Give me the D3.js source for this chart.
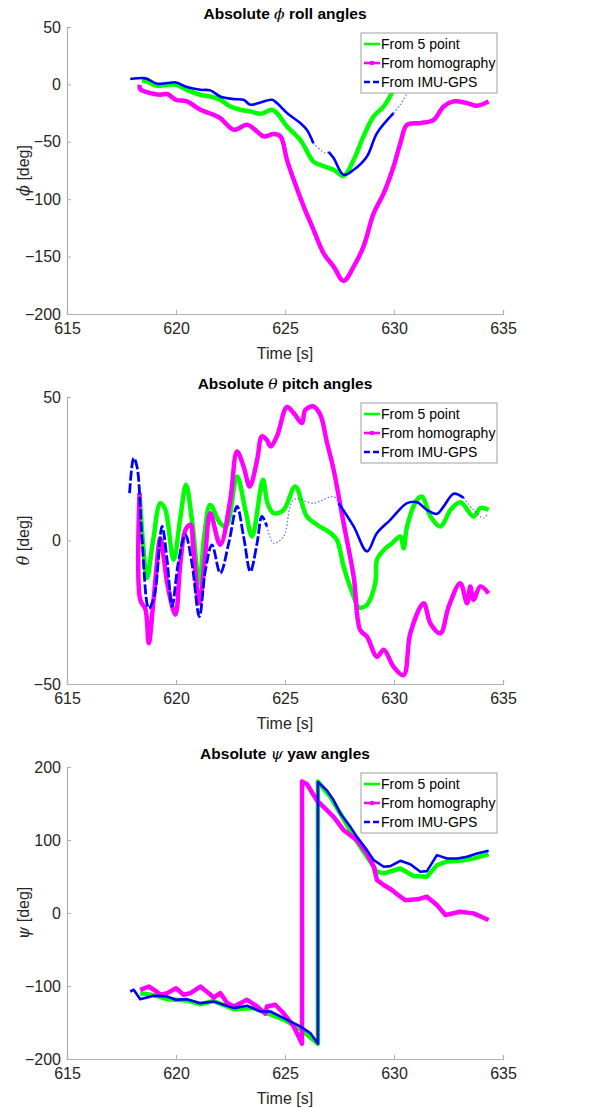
<!DOCTYPE html>
<html><head><meta charset="utf-8">
<script src="https://cdn.jsdelivr.net/npm/d3@7"></script>
<style>
html,body{margin:0;padding:0;background:#fff;}
svg{display:block;font-family:"Liberation Sans",Arial,sans-serif;}
</style></head>
<body>
<svg id="chart" width="590" height="1109"></svg>
<script>
// ---------- data ----------
const xTicks = [615, 620, 625, 630, 635];
const seriesNames = ["From 5 point", "From homography", "From IMU-GPS"];

// Roll (phi)
const rollTicks = [50, 0, -50, -100, -150, -200];
const rollFivePoint = [[618.44,3.5],[618.67,2.6],[619.13,-1.2],[619.59,-0.3],[620.0,-0.3],[620.5,-4.7],[621.12,-9],[621.57,-10.5],[622.03,-13.4],[622.49,-19.2],[622.95,-22.1],[623.41,-23.5],[623.87,-25.6],[624.4,-22.1],[624.63,-25],[625.09,-36.6],[625.7,-48.3],[626.3,-67.2],[626.6,-70],[627.23,-74.4],[627.69,-79.7],[628.15,-65.7],[628.6,-45.3],[629.07,-27.9],[629.53,-19.2],[629.9,-7.6],[630.06,-2.3]];
const rollHomography = [[618.33,-0.3],[618.36,-4.1],[618.82,-7.6],[619.28,-9],[619.59,-8.4],[620.0,-13.4],[620.5,-14.8],[621.12,-22.1],[621.73,-26.5],[622.03,-29.4],[622.65,-39.5],[623.26,-35.2],[623.72,-41],[624.02,-45.3],[624.48,-43.3],[624.79,-45.3],[625.09,-65.7],[625.4,-83.1],[625.86,-106.4],[626.31,-126.7],[626.77,-147.1],[627.23,-158.7],[627.69,-171.2],[628.15,-158.7],[628.6,-141.3],[629.07,-112.2],[629.53,-94.8],[629.98,-71.5],[630.29,-51.2],[630.6,-35.2],[631.21,-33.7],[631.82,-30.8],[632.28,-19.2],[632.74,-14.8],[633.35,-16.3],[633.81,-18.6],[634.34,-14.8]];
const rollImu = [[617.9,4.7],[618.5,5.5],[618.67,5],[619.13,0.6],[619.59,1.2],[620.0,1.7],[620.5,-2.3],[621.12,-4.7],[621.57,-5.2],[622.03,-10.5],[622.65,-12.8],[623.1,-13.4],[623.41,-17.7],[623.87,-15.7],[624.4,-13.4],[624.63,-16.3],[625.09,-25],[625.7,-33.7],[626.0,-39.5],[626.3,-51.2],[626.85,-59.9],[627.0,-58.7],[627.23,-64.2],[627.69,-78.8],[628.15,-74.4],[628.76,-62.8],[629.22,-42.4],[629.98,-25],[630.29,-17.7],[630.6,-7.6]];
const rollImuSparse = [[626.3,627.0],[629.98,630.6]];

// Pitch (theta)
const pitchTicks = [50, 0, -50];
const pitchFivePoint = [[618.33,16.5],[618.5,-2],[618.67,-13.1],[618.95,0],[619.28,13],[619.5,11],[619.89,-6.7],[620.2,8],[620.46,19.4],[620.75,6],[621.07,-14.9],[621.3,2],[621.57,12.4],[622.03,6],[622.3,5],[622.8,22.3],[623.18,10.7],[623.49,1.4],[623.99,21.2],[624.2,13],[624.48,9.5],[624.94,10.7],[625.47,18.8],[626.0,8.4],[626.47,5.5],[627.08,2.6],[627.38,0.2],[627.69,-9.1],[628.15,-19.5],[628.38,-23.3],[628.76,-22.4],[629.14,-14.9],[629.22,-6.7],[629.53,-3.3],[629.9,-1],[630.29,1.4],[630.44,-2.7],[630.6,4.9],[631.06,14.2],[631.29,15.3],[631.67,8.4],[632.13,4.9],[632.6,10.7],[633.04,13.3],[633.65,8.4],[633.96,11.3],[634.34,10.7]];
const pitchHomography = [[618.33,16.5],[618.36,-20.7],[618.6,-24],[618.75,-35.8],[618.98,-20],[619.28,0.8],[619.45,-6.7],[619.6,-14.9],[619.97,-25.9],[620.2,-8],[620.43,3.7],[620.66,5.5],[620.8,-3.3],[621.07,-21.9],[621.35,-4],[621.57,9.5],[622.03,-1.5],[622.49,14.2],[622.8,31],[623.1,25.8],[623.38,18.8],[623.72,28],[623.94,36.3],[624.17,35],[624.33,32.8],[624.63,36.3],[625.09,46.5],[625.4,44.4],[625.78,40.9],[625.93,45.5],[626.31,46.7],[626.62,43.8],[626.93,34],[627.23,24.7],[627.69,6],[628.15,-12.6],[628.45,-31.2],[628.76,-33.5],[629.22,-40.5],[629.53,-38.1],[629.98,-44],[630.44,-46.9],[630.75,-32.3],[631.36,-21.9],[631.67,-28.9],[632.13,-32.3],[632.51,-23],[633.04,-14.9],[633.35,-21.9],[633.5,-16],[633.65,-20.7],[633.96,-16],[634.34,-18.4]];
const pitchImu = [[617.87,16.5],[618.06,28.7],[618.21,25.8],[618.44,1],[618.75,-23.6],[619.0,-19.5],[619.36,4.9],[619.59,-6.7],[619.82,-23],[620.1,-8],[620.43,2],[620.73,-7.9],[621.07,-26.5],[621.35,-10.3],[621.65,-1.5],[622.03,-11.4],[622.42,-0.9],[622.8,11.9],[623.1,1.4],[623.41,-10.8],[623.72,-0.9],[623.94,8.4],[624.17,4.9],[624.48,-0.9],[624.94,1.4],[625.4,14.2],[626.3,13],[627.23,15.3],[627.46,13],[628.15,4.9],[628.76,-3.8],[629.22,2.6],[629.83,7.2],[630.6,13],[631.06,13.3],[631.51,10.7],[631.97,9.3],[632.28,11.9],[632.74,16.3],[633.2,14.8],[633.65,10.7],[634.11,7.8],[634.3,9.5]];
const pitchImuSparse = [[624.2,627.46],[633.2,634.3]];

// Yaw (psi)
const yawTicks = [200, 100, 0, -100, -200];
const yawFivePoint = [[618.36,-109.8],[618.98,-112.5],[619.59,-118],[620.5,-119.8],[621.12,-125],[621.73,-120.5],[622.65,-131.7],[623.56,-130],[624.17,-137],[624.94,-146],[625.7,-159],[626.51,-179],[626.51,180],[627.08,159],[627.54,136],[628.15,104.3],[628.76,77],[629.22,56.5],[629.53,54.2],[630.29,61],[630.9,50.6],[631.51,49.7],[631.97,65.6],[632.43,70.5],[633.04,71.5],[633.65,74.5],[634.34,80.6]];
const yawHomography = [[618.36,-105.2],[618.75,-100.7],[619.13,-108],[619.28,-112],[619.59,-109.8],[620.0,-103],[620.35,-112],[620.66,-109.8],[621.12,-100.7],[621.5,-109.8],[621.73,-116],[622.03,-109.8],[622.34,-123],[622.65,-128],[623.26,-118.9],[623.72,-128],[624.1,-138],[624.17,-128],[624.55,-125.7],[624.86,-134.9],[625.17,-146.2],[625.4,-155.4],[625.78,-179],[625.78,180],[626.01,176.3],[626.46,154.4],[626.92,140.8],[627.23,131.7],[627.69,113.4],[628.3,99.8],[628.76,81.5],[629.07,63.3],[629.22,45.1],[629.53,38.3],[629.9,31.5],[630.29,22.3],[630.52,17.6],[631.06,18.7],[631.51,22.3],[631.97,10.9],[632.36,-2.7],[633.04,1.8],[633.65,-0.5],[634.34,-9.6]];
const yawImu = [[617.9,-107.5],[618.06,-105.2],[618.36,-118],[618.98,-113.4],[619.59,-114.3],[620.0,-118.9],[620.5,-118],[621.12,-123.5],[621.73,-121.2],[622.65,-130.3],[623.26,-127.1],[623.87,-134.9],[624.33,-134.9],[624.94,-144],[625.7,-155.4],[626.16,-164.5],[626.51,-179],[626.51,179.5],[626.92,168],[627.23,154.4],[627.54,136.2],[628.0,118],[628.3,104.3],[628.76,86.1],[629.07,72.4],[629.53,63.3],[629.83,64.2],[630.29,71.5],[630.75,66.9],[631.21,56.5],[631.51,57.4],[631.97,79.3],[632.43,74.7],[632.9,74.7],[633.35,77],[633.81,81.5],[634.34,85.2]];
const yawImuSparse = [];

// ---------- drawing ----------
const svg = d3.select("#chart");
const W = 590;
const margin = {left: 67, right: 87};
const colors = {five: "#00ff00", homo: "#ff00ff", imu: "#0000ff"};

const panels = [
  {top: 27, h: 287, titleY: 19, title: ["Absolute ", "\u03D5", " roll angles"], ylab: "\u03D5", ticks: rollTicks, dom: [-200, 50],
   five: rollFivePoint, homo: rollHomography, imu: rollImu, sparse: rollImuSparse, dashEnd: null, curve: d3.curveCatmullRom.alpha(0.5)},
  {top: 397, h: 287, titleY: 389, title: ["Absolute ", "\u03B8", " pitch angles"], ylab: "\u03B8", ticks: pitchTicks, dom: [-50, 50],
   five: pitchFivePoint, homo: pitchHomography, imu: pitchImu, sparse: pitchImuSparse, dashEnd: 624.5, curve: d3.curveCatmullRom.alpha(0.5)},
  {top: 767, h: 292, titleY: 759, title: ["Absolute ", "\u03C8", " yaw angles"], ylab: "\u03C8", ticks: yawTicks, dom: [-200, 200],
   five: yawFivePoint, homo: yawHomography, imu: yawImu, sparse: yawImuSparse, dashEnd: null, curve: d3.curveLinear}
];

panels.forEach(p => {
  const x = d3.scaleLinear().domain([615, 635]).range([margin.left, W - margin.right]);
  const y = d3.scaleLinear().domain(p.dom).range([p.top + p.h, p.top]);
  const g = svg.append("g");

  // axes
  const xAxis = d3.axisBottom(x).tickValues(xTicks).tickSize(-4).tickPadding(9).tickFormat(d3.format("d"));
  const yAxis = d3.axisLeft(y).tickValues(p.ticks).tickSize(-4).tickPadding(6).tickFormat(d3.format("d"));
  const gx = g.append("g").attr("transform", `translate(0,${p.top + p.h})`).call(xAxis);
  const gy = g.append("g").attr("transform", `translate(${margin.left},0)`).call(yAxis);
  [gx, gy].forEach(a => {
    a.select(".domain").attr("stroke", "#b0b0b0").attr("stroke-width", 1.2);
    a.selectAll(".tick line").attr("stroke", "#b0b0b0");
    a.selectAll(".tick text").attr("fill", "#262626").attr("font-size", 16).attr("font-family", "Liberation Sans, Arial, sans-serif");
  });

  const line = d3.line().x(d => x(d[0])).y(d => y(d[1])).curve(p.curve);
  const clip = "clip" + p.top;
  svg.append("clipPath").attr("id", clip).append("rect").attr("x", margin.left).attr("y", p.top - 2).attr("width", W - margin.left - margin.right).attr("height", p.h + 4);
  const plot = g.append("g").attr("clip-path", `url(#${clip})`);

  plot.append("path").attr("d", line(p.five)).attr("fill", "none").attr("stroke", colors.five).attr("stroke-width", 4.5).attr("stroke-linejoin", "round");
  plot.append("path").attr("d", line(p.homo)).attr("fill", "none").attr("stroke", colors.homo).attr("stroke-width", 4.5).attr("stroke-linejoin", "round");

  // IMU line split into dense (solid / dashed) and sparse (dotted) runs
  const inSparse = t => p.sparse.some(r => t >= r[0] && t <= r[1]);
  const segs = [];
  for (let i = 0; i < p.imu.length - 1; i++) {
    const a = p.imu[i], b = p.imu[i + 1];
    const mid = (a[0] + b[0]) / 2;
    const kind = inSparse(mid) ? "sparse" : (p.dashEnd !== null && mid < p.dashEnd ? "dash" : "solid");
    if (segs.length && segs[segs.length - 1].kind === kind) segs[segs.length - 1].pts.push(b);
    else segs.push({kind, pts: [a, b]});
  }
  segs.forEach(s => {
    const path = plot.append("path").attr("d", line(s.pts)).attr("fill", "none").attr("stroke-linejoin", "round");
    if (s.kind === "sparse") path.attr("stroke", "#4a5cf0").attr("stroke-width", 1.4).attr("stroke-dasharray", "1.5,2").attr("opacity", 0.8);
    else if (s.kind === "dash") path.attr("stroke", colors.imu).attr("stroke-width", 2.8).attr("stroke-dasharray", "10,2.5");
    else path.attr("stroke", colors.imu).attr("stroke-width", 2.6);
  });

  // title
  const t = g.append("text").attr("x", 285).attr("y", p.titleY).attr("text-anchor", "middle")
    .attr("font-size", 15.5).attr("font-weight", "bold").attr("fill", "#000");
  t.append("tspan").text(p.title[0]);
  t.append("tspan").text(p.title[1]).attr("font-family", "DejaVu Serif, serif").attr("font-style", "italic").attr("font-weight", "normal");
  t.append("tspan").text(p.title[2]);

  // axis labels
  g.append("text").attr("x", 285).attr("y", p.top + p.h + 45).attr("text-anchor", "middle")
    .attr("font-size", 16).attr("fill", "#262626").text("Time [s]");
  const yl = g.append("text").attr("transform", `translate(29,${p.top + p.h / 2}) rotate(-90)`).attr("text-anchor", "middle")
    .attr("font-size", 16).attr("fill", "#262626");
  yl.append("tspan").text(p.ylab).attr("font-family", "DejaVu Serif, serif").attr("font-style", "italic");
  yl.append("tspan").text(" [deg]");

  // legend
  const lx = 361, ly = p.top + 6;
  const lg = g.append("g");
  lg.append("rect").attr("x", lx).attr("y", ly).attr("width", 136).attr("height", 60)
    .attr("fill", "#fff").attr("stroke", "#a0a0a0").attr("stroke-width", 1);
  const keys = ["five", "homo", "imu"];
  seriesNames.forEach((name, i) => {
    const yy = ly + 11 + i * 19;
    const s = lg.append("line").attr("x1", lx + 3).attr("x2", lx + 19).attr("y1", yy).attr("y2", yy)
      .attr("stroke", colors[keys[i]]).attr("stroke-width", 2.6);
    if (keys[i] === "imu") s.attr("stroke-dasharray", "6,3");
    if (keys[i] === "homo") lg.append("circle").attr("cx", lx + 11).attr("cy", yy).attr("r", 2.3).attr("fill", colors.homo);
    lg.append("text").attr("x", lx + 20).attr("y", yy + 5).attr("font-size", 14).attr("fill", "#000").text(name);
  });
});
</script>
</body></html>
